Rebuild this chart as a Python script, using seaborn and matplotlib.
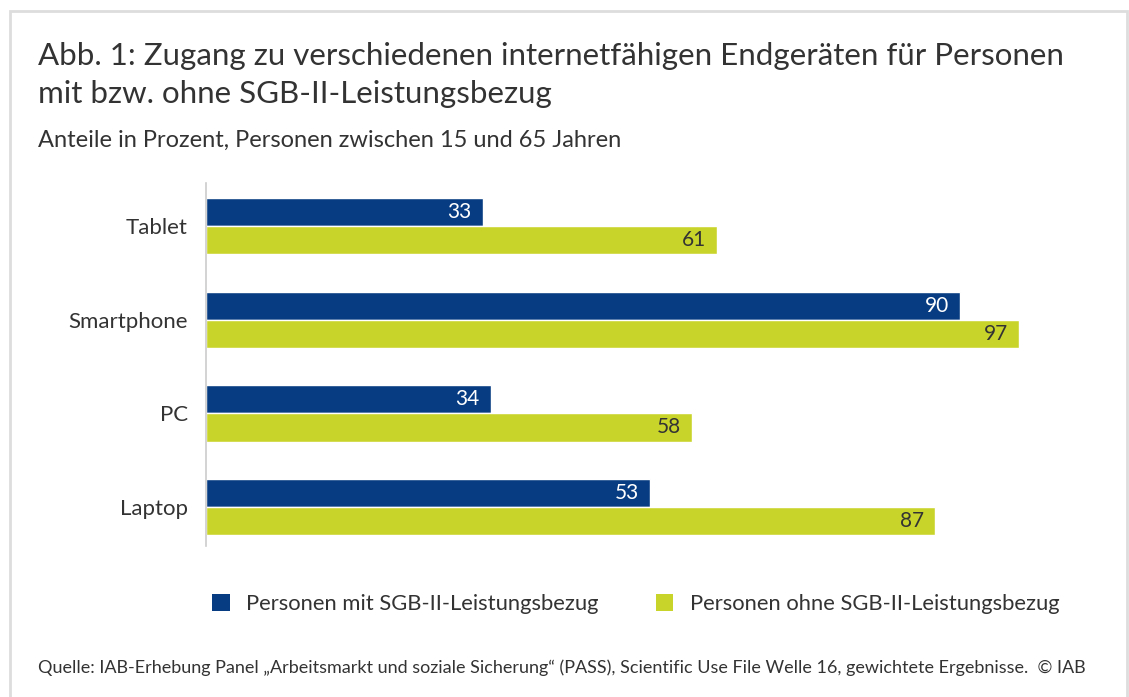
import matplotlib
matplotlib.use("Agg")
import matplotlib.pyplot as plt
import seaborn as sns
import pandas as pd
from matplotlib.patches import Patch, Rectangle

categories = ["Tablet", "Smartphone", "PC", "Laptop"]
mit_sgb = [33, 90, 34, 53]
ohne_sgb = [61, 97, 58, 87]
series_names = ["Personen mit SGB-II-Leistungsbezug", "Personen ohne SGB-II-Leistungsbezug"]

title_lines = ["Abb. 1: Zugang zu verschiedenen internetfähigen Endgeräten für Personen",
               "mit bzw. ohne SGB-II-Leistungsbezug"]
subtitle = "Anteile in Prozent, Personen zwischen 15 und 65 Jahren"
source = "Quelle: IAB-Erhebung Panel \u201eArbeitsmarkt und soziale Sicherung\u201c (PASS), Scientific Use File Welle 16, gewichtete Ergebnisse.  \u00a9 IAB"

BLUE = "#073C82"
YELLOW = "#C9D42B"
TEXT = "#333333"

df = pd.DataFrame({
    "Gerät": categories * 2,
    "Wert": mit_sgb + ohne_sgb,
    "Gruppe": [series_names[0]] * len(categories) + [series_names[1]] * len(categories),
})

sns.set_theme(style="white")
plt.rcParams["font.family"] = ["Lato", "DejaVu Sans"]

W, H = 1129, 697
fig = plt.figure(figsize=(W / 100, H / 100), dpi=100)
fig.patch.set_facecolor("white")
ax = fig.add_axes([206 / W, 1 - 554 / H, (1044 - 206) / W, (554 - 179) / H])

sns.barplot(data=df, y="Gerät", x="Wert", hue="Gruppe", order=categories,
            hue_order=series_names, palette=[BLUE, YELLOW], width=0.6,
            orient="h", ax=ax, legend=False, saturation=1)

ax.set_xlim(0, 100)
ax.set_ylim(3.5, -0.5)
ax.set_xlabel("")
ax.set_ylabel("")
ax.set_xticks([])
for s in ["top", "right", "bottom"]:
    ax.spines[s].set_visible(False)
ax.spines["left"].set_color("#cccccc")
ax.spines["left"].set_linewidth(1.2)
ax.spines["left"].set_bounds(-0.46, 3.41)
ax.tick_params(axis="y", length=0, pad=13, labelsize=16, labelcolor=TEXT)

for container, color in zip(ax.containers, ["white", TEXT]):
    for bar in container:
        v = bar.get_width()
        ax.annotate(f"{v:.0f}", (v, bar.get_y() + bar.get_height() / 2),
                    xytext=(-8, 0), textcoords="offset points",
                    ha="right", va="center", fontsize=15, color=color)

fig.text(38 / W, 1 - 65 / H, title_lines[0], ha="left", va="baseline", fontsize=22.5, color=TEXT)
fig.text(38 / W, 1 - 103 / H, title_lines[1], ha="left", va="baseline", fontsize=22.5, color=TEXT)
fig.text(38 / W, 1 - 147 / H, subtitle, ha="left", va="baseline", fontsize=17, color=TEXT)

handles = [Patch(facecolor=BLUE, edgecolor="none"), Patch(facecolor=YELLOW, edgecolor="none")]
fig.legend(handles, series_names, loc="center left",
           bbox_to_anchor=(212 / W, 1 - 604 / H), ncol=2, frameon=False,
           fontsize=15.8, handlelength=0.8, handleheight=0.8, handletextpad=0.75,
           columnspacing=2.6, labelcolor=TEXT, borderpad=0, borderaxespad=0)

fig.text(38 / W, 1 - 668 / H, source, ha="left", va="center", fontsize=13, color=TEXT)

fig.patches.append(Rectangle((10 / W, -0.01), (1127 - 10) / W, 1.01 - 11 / H,
                             transform=fig.transFigure, fill=False,
                             edgecolor="#dddddd", linewidth=2))

fig.savefig("out.png", dpi=100, facecolor="white")
